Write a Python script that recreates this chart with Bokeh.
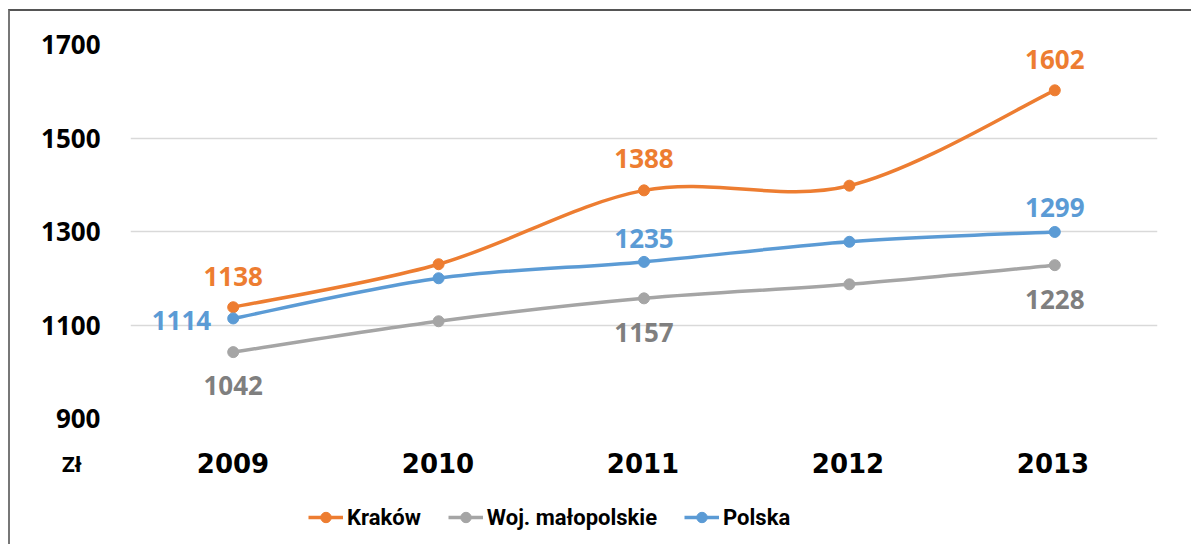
from bokeh.plotting import figure
from bokeh.layouts import column
from bokeh.models import ColumnDataSource, FixedTicker, Legend, LegendItem, Range1d
from bokeh.core.properties import value
from bokeh.embed import file_html
from bokeh.resources import INLINE

# ---- data ----
years = ["2009", "2010", "2011", "2012", "2013"]
krakow = [1138, 1230, 1388, 1398, 1602]
woj_malopolskie = [1042, 1108, 1157, 1187, 1228]
polska = [1114, 1200, 1235, 1278, 1299]
series_names = ["Kraków", "Woj. małopolskie", "Polska"]
y_ticks = [900, 1100, 1300, 1500, 1700]
unit_label = "Zł"
labeled_points = [0, 2, 4]

# ---- styles / geometry ----
FONT = "Open Sans"
XFONT = "DejaVu Sans"
LEGEND_FONT = "Roboto"
colors = ["#ED7D31", "#A5A5A5", "#5B9BD5"]
label_colors = ["#ED7D31", "#7F7F7F", "#5B9BD5"]
label_place = [
    [(0, -31, "center"), (0, -32, "center"), (0, -31, "center")],
    [(0, 33, "center"), (0, 34, "center"), (0, 34, "center")],
    [(-22, 2, "right"), (0, -23, "center"), (0, -24, "center")],
]
CANVAS_W = 1181
FRAME_L, FRAME_W = 120, 1025
FRAME_R = CANVAS_W - FRAME_L - FRAME_W
BOTTOM_H = 108

xs = list(range(1, len(years) + 1))
all_series = [krakow, woj_malopolskie, polska]

# ---------------- main plot area ----------------
p = figure(output_backend="svg", toolbar_location=None,
           x_range=Range1d(0.5, len(years) + 0.5),
           y_range=Range1d(y_ticks[0], y_ticks[-1]),
           frame_width=FRAME_W, frame_height=372,
           min_border_left=FRAME_L, min_border_right=FRAME_R,
           min_border_top=33, min_border_bottom=20)
p.outline_line_color = None
p.background_fill_color = "white"
p.border_fill_color = "white"
p.styles = {"margin-left": "8px", "margin-top": "9px",
            "border-left": "2px solid #777777", "border-top": "2px solid #555555"}

p.xaxis.visible = False
p.xgrid.visible = False
p.ygrid.grid_line_color = "#D9D9D9"
p.ygrid.grid_line_width = 1.5
p.yaxis.ticker = FixedTicker(ticks=y_ticks)
yax = p.yaxis[0]
yax.axis_line_color = None
yax.major_tick_line_color = None
yax.minor_tick_line_color = None
yax.major_label_text_font = FONT
yax.major_label_text_font_style = "bold"
yax.major_label_text_color = "black"
yax.major_label_text_font_size = "26px"
yax.major_label_standoff = 24


def smooth(xv, yv):
    n = len(xv)
    out = dict(x0=[], y0=[], x1=[], y1=[], cx0=[], cy0=[], cx1=[], cy1=[])
    for i in range(n - 1):
        a = max(i - 1, 0)
        d = min(i + 2, n - 1)
        out["x0"].append(xv[i]); out["y0"].append(yv[i])
        out["x1"].append(xv[i + 1]); out["y1"].append(yv[i + 1])
        out["cx0"].append(xv[i] + (xv[i + 1] - xv[a]) / 6)
        out["cy0"].append(yv[i] + (yv[i + 1] - yv[a]) / 6)
        out["cx1"].append(xv[i + 1] - (xv[d] - xv[i]) / 6)
        out["cy1"].append(yv[i + 1] - (yv[d] - yv[i]) / 6)
    return out


for s_idx, vals in enumerate(all_series):
    c = colors[s_idx]
    p.bezier(x0="x0", y0="y0", x1="x1", y1="y1", cx0="cx0", cy0="cy0", cx1="cx1", cy1="cy1",
             source=ColumnDataSource(smooth(xs, vals)), line_color=c, line_width=3.5)
    p.scatter(xs, vals, size=11, color=c)
    for k, idx in enumerate(labeled_points):
        dx, dy, al = label_place[s_idx][k]
        p.text(x=[xs[idx]], y=[vals[idx]], text=[str(vals[idx])],
               x_offset=dx, y_offset=dy, text_align=al, text_baseline="middle",
               text_font=value(FONT), text_font_style="bold", text_font_size="26px",
               text_color=label_colors[s_idx])

# ---------------- strip below: category labels, unit, legend ----------------
label_row = BOTTOM_H - 26
p2 = figure(output_backend="svg", toolbar_location=None,
            width=CANVAS_W, height=BOTTOM_H,
            x_range=p.x_range, y_range=Range1d(0, BOTTOM_H),
            x_axis_type=None,
            min_border_left=FRAME_L, min_border_right=FRAME_R,
            min_border_top=0, min_border_bottom=0)
p2.outline_line_color = None
p2.background_fill_color = "white"
p2.border_fill_color = "white"
p2.styles = {"margin-left": "8px", "border-left": "2px solid #777777"}
p2.xgrid.visible = False
p2.ygrid.visible = False
p2.yaxis.ticker = FixedTicker(ticks=[label_row])
p2.yaxis.major_label_overrides = {label_row: unit_label}
uax = p2.yaxis[0]
uax.axis_line_color = None
uax.major_tick_line_color = None
uax.minor_tick_line_color = None
uax.major_label_text_font = FONT
uax.major_label_text_font_style = "bold"
uax.major_label_text_color = "black"
uax.major_label_text_font_size = "22px"
uax.major_label_standoff = 43

p2.text(x=xs, y=[label_row] * len(xs), text=years, text_align="center",
        text_baseline="middle", text_font=value(XFONT), text_font_style="bold",
        text_font_size="26px", text_color="black")

# legend glyph renderers (series data lies outside this strip's y-range, so only
# the legend shows them)
items = []
for s_idx, name in enumerate(series_names):
    c = colors[s_idx]
    ln = p2.line(x=xs, y=all_series[s_idx], line_color=c, line_width=3.5)
    mk = p2.scatter(x=xs, y=all_series[s_idx], size=11, color=c)
    items.append(LegendItem(label=name, renderers=[ln, mk]))

legend = Legend(items=items, orientation="horizontal", location=(178, 14),
                label_text_font=LEGEND_FONT, label_text_font_style="bold",
                label_text_font_size="22px", label_text_color="black",
                glyph_width=35, glyph_height=26, label_height=26, label_standoff=4,
                spacing=27, padding=0, margin=0,
                border_line_color=None, background_fill_alpha=0)
p2.add_layout(legend, "center")

layout = column(p, p2, spacing=0)
open("out.html", "w").write(file_html(layout, INLINE))
